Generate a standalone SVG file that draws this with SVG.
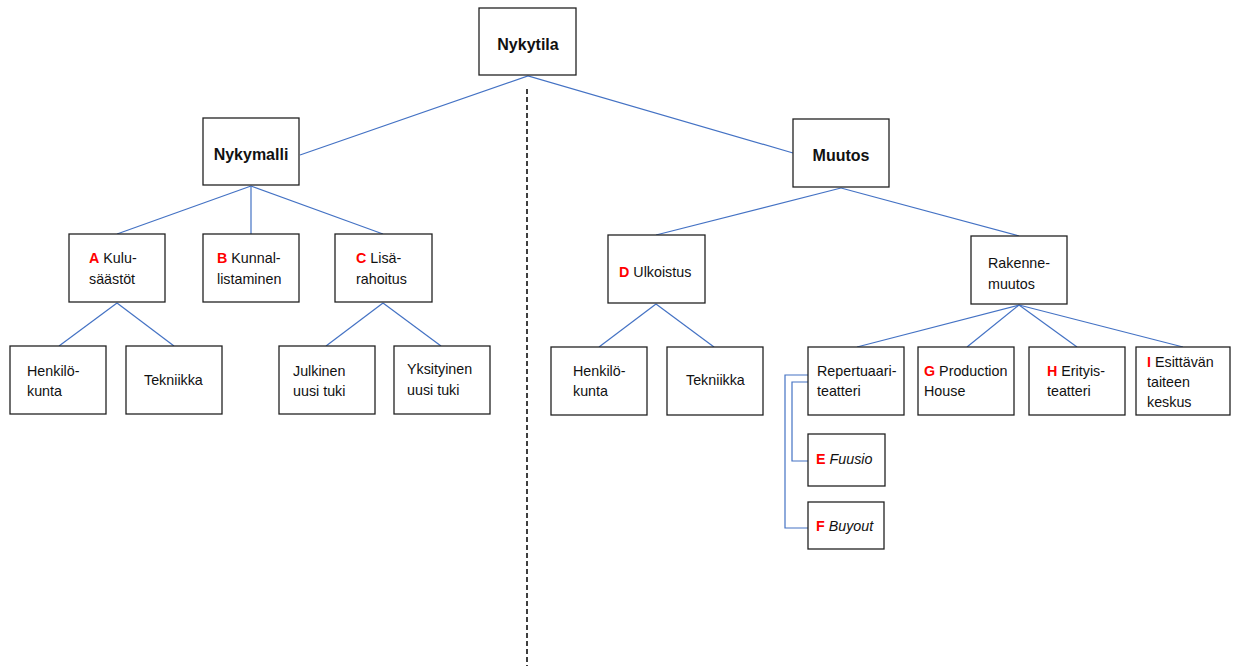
<svg xmlns="http://www.w3.org/2000/svg" width="1238" height="666" viewBox="0 0 1238 666">
<style>
.box{fill:#fff;stroke:#222;stroke-width:1.3}
.t{font-family:"Liberation Sans",Arial,sans-serif;font-size:14.3px;fill:#111}
.h{font-family:"Liberation Sans",Arial,sans-serif;font-size:16px;font-weight:bold;fill:#111;text-anchor:middle}
.r{fill:#ff0000;font-weight:bold}
.i{font-style:italic}
.c{fill:none;stroke:#4472C4;stroke-width:1.2}
</style>
<rect width="1238" height="666" fill="#fff"/>
<line x1="527" y1="89" x2="527" y2="666" stroke="#000" stroke-width="1.5" stroke-dasharray="5,3"/>
<g id="connectors" class="c">
<polyline points="300,155 528,76 793,153"/>
<line x1="251" y1="186" x2="117" y2="234"/>
<line x1="251" y1="186" x2="251" y2="234"/>
<line x1="251" y1="186" x2="383" y2="234"/>
<line x1="117" y1="303" x2="59" y2="346"/>
<line x1="117" y1="303" x2="174" y2="346"/>
<line x1="383" y1="303" x2="326" y2="346"/>
<line x1="383" y1="303" x2="441" y2="346"/>
<line x1="841" y1="188" x2="656" y2="235"/>
<line x1="841" y1="188" x2="1019" y2="236"/>
<line x1="656" y1="304" x2="599" y2="347"/>
<line x1="656" y1="304" x2="714" y2="347"/>
<line x1="1019" y1="305" x2="857" y2="347"/>
<line x1="1019" y1="305" x2="967" y2="347"/>
<line x1="1019" y1="305" x2="1077" y2="347"/>
<line x1="1019" y1="305" x2="1183" y2="347"/>
<polyline points="808,375 785,375 785,528 808,528"/>
<polyline points="808,382 792,382 792,461 808,461"/>
</g>
<g id="nykytila"><rect class="box" x="479" y="8" width="97" height="67"/><text class="h" x="528" y="50">Nykytila</text></g>
<g id="nykymalli"><rect class="box" x="203" y="118" width="96" height="67"/><text class="h" x="251" y="160">Nykymalli</text></g>
<g id="muutos"><rect class="box" x="793" y="119" width="96" height="68"/><text class="h" x="841" y="161">Muutos</text></g>
<g id="a"><rect class="box" x="69" y="234" width="96" height="68"/><text class="t" x="89" y="263"><tspan class="r">A</tspan> Kulu-</text><text class="t" x="89" y="284">säästöt</text></g>
<g id="b"><rect class="box" x="203" y="234" width="96" height="68"/><text class="t" x="217" y="263"><tspan class="r">B</tspan> Kunnal-</text><text class="t" x="217" y="284">listaminen</text></g>
<g id="c"><rect class="box" x="335" y="234" width="97" height="68"/><text class="t" x="356" y="263"><tspan class="r">C</tspan> Lisä-</text><text class="t" x="356" y="284">rahoitus</text></g>
<g id="henkilokunta1"><rect class="box" x="10" y="346" width="96" height="68"/><text class="t" x="27" y="376">Henkilö-</text><text class="t" x="27" y="396">kunta</text></g>
<g id="tekniikka1"><rect class="box" x="126" y="346" width="96" height="68"/><text class="t" x="144" y="385">Tekniikka</text></g>
<g id="julkinen"><rect class="box" x="279" y="346" width="96" height="68"/><text class="t" x="293" y="376">Julkinen</text><text class="t" x="293" y="396">uusi tuki</text></g>
<g id="yksityinen"><rect class="box" x="394" y="346" width="96" height="68"/><text class="t" x="407" y="374">Yksityinen</text><text class="t" x="407" y="395">uusi tuki</text></g>
<g id="d"><rect class="box" x="608" y="235" width="97" height="68"/><text class="t" x="619" y="277"><tspan class="r">D</tspan> Ulkoistus</text></g>
<g id="rakennemuutos"><rect class="box" x="971" y="236" width="96" height="68"/><text class="t" x="988" y="268">Rakenne-</text><text class="t" x="988" y="289">muutos</text></g>
<g id="henkilokunta2"><rect class="box" x="551" y="347" width="96" height="68"/><text class="t" x="573" y="376">Henkilö-</text><text class="t" x="573" y="396">kunta</text></g>
<g id="tekniikka2"><rect class="box" x="667" y="347" width="96" height="68"/><text class="t" x="686" y="385">Tekniikka</text></g>
<g id="repertuaari"><rect class="box" x="808" y="347" width="96" height="68"/><text class="t" x="817" y="376">Repertuaari-</text><text class="t" x="817" y="396">teatteri</text></g>
<g id="g"><rect class="box" x="918" y="347" width="96" height="68"/><text class="t" x="924" y="376"><tspan class="r">G</tspan> Production</text><text class="t" x="924" y="396">House</text></g>
<g id="h"><rect class="box" x="1029" y="347" width="96" height="68"/><text class="t" x="1047" y="376"><tspan class="r">H</tspan> Erityis-</text><text class="t" x="1047" y="396">teatteri</text></g>
<g id="i"><rect class="box" x="1136" y="347" width="94" height="68"/><text class="t" x="1147" y="367"><tspan class="r">I</tspan> Esittävän</text><text class="t" x="1147" y="387">taiteen</text><text class="t" x="1147" y="407">keskus</text></g>
<g id="e"><rect class="box" x="808" y="434" width="77" height="52"/><text class="t" x="816" y="464"><tspan class="r">E</tspan> <tspan class="i">Fuusio</tspan></text></g>
<g id="f"><rect class="box" x="808" y="502" width="76" height="47"/><text class="t" x="816" y="531"><tspan class="r">F</tspan> <tspan class="i">Buyout</tspan></text></g>
</svg>
